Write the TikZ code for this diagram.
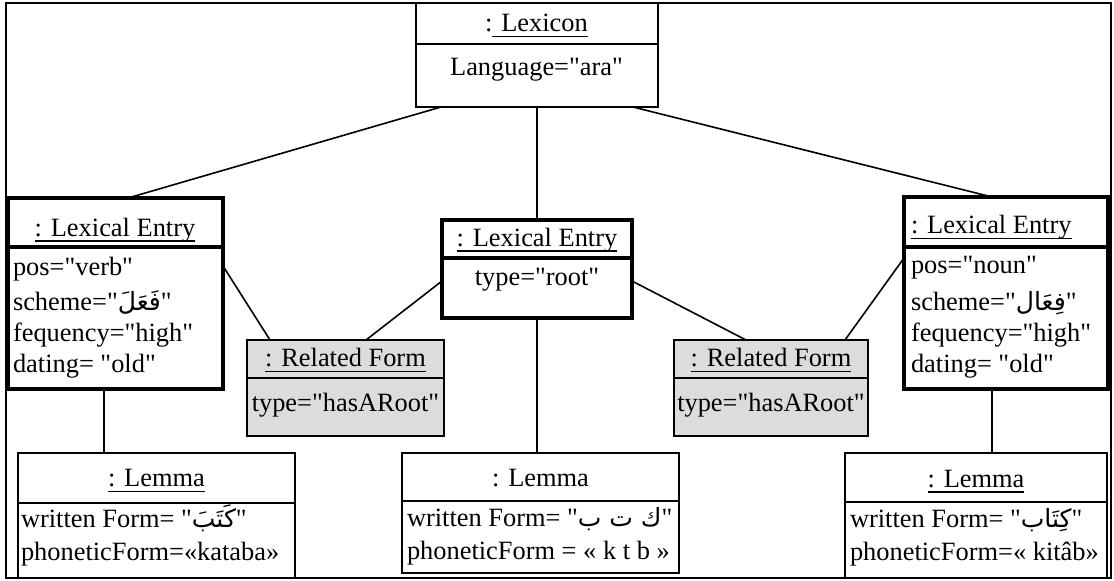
\documentclass[tikz,border=0pt]{standalone}
\usepackage{fontspec}
\setmainfont{Liberation Serif}[Ligatures=TeXOff]
\newfontfamily\arabicfont[Script=Arabic,Scale=0.95]{DejaVu Sans}
\TeXXeTstate=1
\usetikzlibrary{calc}
\definecolor{formgray}{RGB}{220,220,220}
\newcommand\artext[1]{{\arabicfont\beginR #1\endR}}
\begin{document}
\begin{tikzpicture}[x=1pt,y=-1pt,
  every node/.style={inner sep=0pt, outer sep=0pt, font=\fontsize{26.4}{31}\selectfont},
  thinbox/.style={draw, line width=1.6pt, anchor=north west},
  thickbox/.style={draw, line width=3.5pt, anchor=north west},
  formbox/.style={thinbox, fill=formgray},
  divider/.style={line width=1.6pt},
  thickdivider/.style={line width=3.5pt},
  link/.style={line width=1.6pt},
  ulstyle/.style={line width=1.3pt},
  hdr/.style={anchor=base},
  attr/.style={anchor=base west}]

\useasboundingbox (0,0) rectangle (1114,581);
% outer frame
\draw[line width=2pt] (6,3) rectangle (1111,578);

% ---- boxes ----
\node[thinbox, minimum width=242pt, minimum height=104pt] (lex) at (416,3) {};
\node[thickbox, minimum width=215pt, minimum height=191pt] (leL) at (8,198) {};
\node[thickbox, minimum width=190pt, minimum height=98pt] (leC) at (442,220) {};
\node[thickbox, minimum width=204pt, minimum height=192pt] (leR) at (904,197) {};
\node[formbox, minimum width=197pt, minimum height=96pt] (rfL) at (247,340) {};
\node[formbox, minimum width=194pt, minimum height=96pt] (rfR) at (674,340) {};
\node[thinbox, minimum width=277pt, minimum height=125pt] (lmL) at (18,453) {};
\node[thinbox, minimum width=277pt, minimum height=120pt] (lmC) at (402,453) {};
\node[thinbox, minimum width=262pt, minimum height=125pt] (lmR) at (845,453) {};

% ---- compartment dividers ----
\draw[divider] (lex.west |- 0,44) -- (lex.east |- 0,44);
\draw[thickdivider] (leL.west |- 0,247) -- (leL.east |- 0,247);
\draw[thickdivider] (leC.west |- 0,258) -- (leC.east |- 0,258);
\draw[thickdivider] (leR.west |- 0,247) -- (leR.east |- 0,247);
\draw[divider] (rfL.west |- 0,378) -- (rfL.east |- 0,378);
\draw[divider] (rfR.west |- 0,378) -- (rfR.east |- 0,378);
\draw[divider] (lmL.west |- 0,503) -- (lmL.east |- 0,503);
\draw[divider] (lmC.west |- 0,501) -- (lmC.east |- 0,501);
\draw[divider] (lmR.west |- 0,502) -- (lmR.east |- 0,502);

% ---- links ----
\draw[link] ([xshift=25pt]lex.south west) -- ([xshift=120pt]leL.north west);
\draw[link] (lex.south) -- (lex.south |- leC.north);
\draw[link] ([xshift=-25pt]lex.south east) -- ([xshift=88pt]leR.north west);
\draw[link] (leL.east |- 0,266) -- (rfL.north -| 270,0);
\draw[link] (leC.west |- 0,281) -- (rfL.north -| 366,0);
\draw[link] (leC.east |- 0,281) -- (rfR.north -| 746,0);
\draw[link] (leR.west |- 0,258) -- (rfR.north -| 845,0);
\draw[link] (leL.south -| 104,0) -- (lmL.north -| 104,0);
\draw[link] (leC.south) -- (leC.south |- lmC.north);
\draw[link] (leR.south -| 992,0) -- (lmR.north -| 992,0);

% ---- Lexicon ----
\node[hdr] (lexh) at (536.5,31.7) {: Lexicon};
\draw[ulstyle] ([xshift=7.3pt,yshift=-5pt]lexh.base west) -- ([yshift=-5pt]lexh.base east);
\node[hdr] (lexa) at (536.5,75) {Language="ara"};

% ---- Lexical Entry (verb) ----
\node[hdr] (leLh) at (115,236) {: Lexical Entry};
\draw[ulstyle] ([yshift=-5pt]leLh.base west) -- ([yshift=-5pt]leLh.base east);
\node[attr] (leLa) at (13,275) {pos="verb"};
\node[attr] (leLb) at (13,310.7) {scheme="\artext{فَعَلَ}"};
\node[attr] (leLc) at (13,341.7) {fequency="high"};
\node[attr] (leLd) at (13,372.7) {dating= "old"};

% ---- Lexical Entry (root) ----
\node[hdr] (leCh) at (537,246) {: Lexical Entry};
\draw[ulstyle] ([yshift=-5pt]leCh.base west) -- ([yshift=-5pt]leCh.base east);
\node[hdr] (leCa) at (537,285) {type="root"};

% ---- Lexical Entry (noun) ----
\node[attr] (leRh) at (911,233.3) {: Lexical Entry};
\draw[ulstyle] ([yshift=-5pt]leRh.base west) -- ([yshift=-5pt]leRh.base east);
\node[attr] (leRa) at (911,273) {pos="noun"};
\node[attr] (leRb) at (911,310) {scheme="\artext{فِعَال}"};
\node[attr] (leRc) at (911,341.7) {fequency="high"};
\node[attr] (leRd) at (911,372.7) {dating= "old"};

% ---- Related Forms ----
\node[hdr] (rfLh) at (345.5,366.7) {: Related Form};
\draw[ulstyle] ([yshift=-5pt]rfLh.base west) -- ([yshift=-5pt]rfLh.base east);
\node[hdr] (rfLa) at (345.5,411.7) {type="hasARoot"};
\node[hdr] (rfRh) at (771,366.7) {: Related Form};
\draw[ulstyle] ([yshift=-5pt]rfRh.base west) -- ([yshift=-5pt]rfRh.base east);
\node[hdr] (rfRa) at (771,411.7) {type="hasARoot"};

% ---- Lemmas ----
\node[hdr] (lmLh) at (156.5,486.7) {: Lemma};
\draw[ulstyle] ([yshift=-5pt]lmLh.base west) -- ([yshift=-5pt]lmLh.base east);
\node[attr] (lmLa) at (21,527) {written Form= "\artext{كَتَبَ}"};
\node[attr] (lmLb) at (21,560) {phoneticForm=«kataba»};

\node[hdr] (lmCh) at (540.5,486.7) {: Lemma};
\node[attr] (lmCa) at (407,526) {written Form= "\artext{ك ت ب}"};
\node[attr] (lmCb) at (407,559) {phoneticForm = « k t b »};

\node[hdr] (lmRh) at (976,487) {: Lemma};
\draw[ulstyle] ([yshift=-5pt]lmRh.base west) -- ([yshift=-5pt]lmRh.base east);
\node[attr] (lmRa) at (850,527) {written Form= "\artext{كِتَاب}"};
\node[attr] (lmRb) at (850,560) {phoneticForm=« kitâb»};
\end{tikzpicture}
\end{document}
